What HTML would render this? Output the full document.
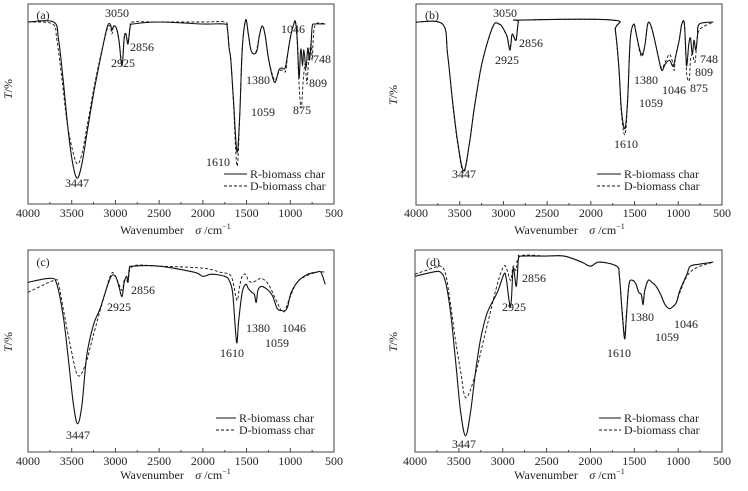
<!DOCTYPE html>
<html><head><meta charset="utf-8"><style>
html,body{margin:0;padding:0;background:#fff;}
svg{display:block;}
svg text{font-family:"Liberation Serif","Times New Roman",serif;}
</style></head><body>
<svg id="chart" width="748" height="491" viewBox="0 0 748 491" font-family="Liberation Serif, serif" xmlns="http://www.w3.org/2000/svg"></svg>
<script>
// ---- data (wavenumber / cm^-1, transmittance T% relative scale) ----
const xTicks = [4000,3500,3000,2500,2000,1500,1000,500];
const panelLabels = ['(a)','(b)','(c)','(d)'];
const seriesNames = ['R-biomass char','D-biomass char'];

const aRwn = [4000,3707,3650,3593,3536,3479,3433,3384,3327,3251,3175,3098,3060,3040,3020,2990,2960,2925,2900,2880,2856,2830,2800,2500,2000,1750,1720,1700,1680,1650,1610,1580,1550,1510,1480,1450,1410,1380,1350,1320,1290,1250,1200,1170,1130,1100,1059,1030,1000,960,940,920,900,885,875,860,845,820,800,780,760,748,720,600];
const aRv  = [91,91,82,60,35,18,13,20,35,55,72,88,90,87,89,88,82,69,83,85,80,89,90,91,90,90,88,78,72,52,26,43,77,92,85,77,75,77,85,89,85,73,63,61,67,68,68,75,83,90,91,82,63,75,77,69,77,68,78,72,82,89,90,90];
const aDwn = [4000,3720,3670,3610,3550,3480,3433,3384,3327,3251,3175,3098,3060,3040,3020,2990,2960,2925,2900,2880,2856,2830,2800,2500,2000,1750,1720,1700,1680,1650,1610,1580,1550,1510,1480,1450,1410,1380,1350,1320,1290,1250,1200,1170,1130,1100,1059,1046,1030,1000,960,940,920,900,875,850,830,809,790,760,748,720,600];
const aDv  = [91,90,82,62,40,25,20,25,38,57,73,87,89,85,89,88,82,70,83,85,81,89,91,91,91,91,88,78,72,50,19,42,77,92,85,77,75,78,85,89,85,73,64,62,66,67,66,68,75,83,90,91,80,60,48,63,70,60,72,80,72,89,90];

const bRwn = [4000,3696,3639,3582,3525,3456,3391,3334,3258,3182,3106,3050,3020,2960,2925,2900,2856,2830,2800,1750,1720,1680,1650,1610,1580,1550,1510,1480,1440,1410,1380,1350,1320,1280,1230,1190,1150,1100,1060,1030,990,960,930,910,900,880,860,840,820,800,780,760,600];
const bRv  = [91,90,75,52,32,17,30,48,68,81,90,90,89,84,77,85,82,91,92,92,87,69,47,38,52,82,90,85,77,75,80,90,90,84,74,67,70,72,69,74,82,90,90,72,70,80,83,75,82,77,84,90,91];
const bDwn = [4000,3696,3639,3582,3525,3456,3391,3334,3258,3182,3106,3050,3020,2960,2925,2900,2856,2830,2800,1750,1720,1680,1650,1610,1580,1550,1510,1480,1440,1410,1380,1350,1320,1280,1230,1190,1150,1100,1059,1046,1030,990,960,930,910,900,875,860,840,809,790,760,600];
const bDv  = [91,90,75,51,31,16,30,48,68,81,90,90,89,84,78,85,82,91,92,92,87,68,45,35,51,82,90,85,76,74,80,90,90,84,74,68,71,75,70,67,74,82,90,90,70,64,62,72,75,71,79,87,91];

const cRwn = [4000,3745,3669,3593,3536,3479,3433,3384,3327,3251,3175,3060,3000,2960,2925,2900,2870,2856,2840,2800,2500,2100,2000,1900,1750,1700,1660,1630,1610,1590,1550,1510,1480,1440,1410,1390,1370,1330,1250,1200,1150,1100,1060,1030,990,900,800,700,650,600];
const cRv  = [84,86,83,66,45,23,14,23,48,63,71,86,87,82,77,84,87,84,91,92,92,89,87,88,87,85,79,62,54,65,79,83,81,79,78,74,80,82,80,77,71,70,70,72,79,85,88,89,89,83];
const cDwn = [4000,3700,3650,3593,3517,3433,3346,3251,3137,3050,3000,2925,2900,2856,2800,2500,2000,1800,1700,1660,1610,1580,1550,1510,1480,1440,1380,1330,1250,1150,1100,1060,1000,900,700,600];
const cDv  = [79,85,83,70,53,38,43,58,76,88,87,80,85,85,92,92,91,89,88,85,75,82,87,88,85,84,85,86,83,74,70,70,77,85,89,89];

const dRwn = [4000,3800,3708,3651,3594,3537,3480,3423,3366,3309,3252,3176,3062,2986,2960,2910,2880,2845,2820,2790,2500,2300,2100,2000,1900,1700,1670,1640,1610,1590,1560,1520,1480,1450,1420,1400,1380,1340,1300,1250,1200,1150,1100,1060,1020,980,900,860,750,600];
const dRv  = [87,89,89,84,69,45,20,8,20,40,56,69,79,88,86,72,91,82,96,97,97,97,94,92,94,92,87,70,56,67,83,85,83,79,78,73,80,85,84,82,78,73,71,72,74,80,88,92,93,94];
const dDwn = [4000,3800,3708,3651,3594,3537,3480,3423,3328,3214,3062,2986,2950,2910,2880,2845,2800,2500,2300,2100,2000,1900,1700,1670,1640,1610,1590,1560,1520,1480,1450,1420,1400,1380,1340,1300,1250,1200,1150,1100,1060,1020,980,900,800,600];
const dDv  = [88,91,92,88,73,55,40,27,36,56,83,92,90,85,92,90,97,97,97,94,92,94,92,87,71,58,68,83,85,83,79,78,74,80,85,84,82,78,73,71,72,74,79,87,91,94];

const annA = [['3050',117,13],['2856',142,47],['2925',123,63],['1380',258,80],['1046',293,29],['748',322,59],['809',318,83],['1059',263,112],['875',302,110],['1610',218,162],['3447',77,183]];
const annB = [['3050',505,13],['2856',531,43],['2925',507,60],['1380',646,80],['748',709,59],['809',704,72],['1046',674,90],['875',699,88],['1059',651,103],['1610',626,144],['3447',464,174]];
const annC = [['2856',143,290],['2925',119,307],['1380',258,328],['1046',294,328],['1059',277,343],['1610',232,353],['3447',78,435]];
const annD = [['2856',534,278],['2925',514,307],['1380',642,317],['1046',686,324],['1059',667,337],['1610',619,353],['3447',464,444]];

const panels = [
 {L:28,R:334,T:4,B:204,lab:[43,15],leg:[224,247,174,250],ann:annA,s:[[aRwn,aRv],[aDwn,aDv]],tickY:217,xl:[152,213,234],yl:[12,89]},
 {L:416,R:722,T:4,B:205,lab:[432,15],leg:[597,621,174,624],ann:annB,s:[[bRwn,bRv],[bDwn,bDv]],tickY:217,xl:[546,607,234],yl:[397,95]},
 {L:28,R:334,T:250,B:452,lab:[43,262],leg:[216,236,418,239],ann:annC,s:[[cRwn,cRv],[cDwn,cDv]],tickY:465,xl:[152,213,479],yl:[12,342]},
 {L:415,R:722,T:250,B:452,lab:[433,262],leg:[599,621,418,624],ann:annD,s:[[dRwn,dRv],[dDwn,dDv]],tickY:465,xl:[546,607,479],yl:[397,342]}
];
const NS='http://www.w3.org/2000/svg';
const svg=document.getElementById('chart');
const FF='Liberation Serif, serif';
function mk(tag,attrs,parent){const e=document.createElementNS(NS,tag);for(const k in attrs)e.setAttribute(k,attrs[k]);if(tag==='text')e.setAttribute('font-family',FF);(parent||svg).appendChild(e);return e;}
function smooth(pts){let d='M'+pts[0][0].toFixed(1)+','+pts[0][1].toFixed(1);
 for(let i=0;i<pts.length-1;i++){const p0=pts[i-1]||pts[i],p1=pts[i],p2=pts[i+1],p3=pts[i+2]||p2;
  const c1=[p1[0]+(p2[0]-p0[0])/6,p1[1]+(p2[1]-p0[1])/6],c2=[p2[0]-(p3[0]-p1[0])/6,p2[1]-(p3[1]-p1[1])/6];
  d+='C'+c1[0].toFixed(1)+','+c1[1].toFixed(1)+' '+c2[0].toFixed(1)+','+c2[1].toFixed(1)+' '+p2[0].toFixed(1)+','+p2[1].toFixed(1);}
 return d;}
panels.forEach((p,pi)=>{
 const g=mk('g',{});
 
 
 const xs=w=>p.L+(4000-w)/3500*(p.R-p.L);
 const ys=v=>p.B-v/100*(p.B-p.T);
 const box=mk('rect',{x:p.L,y:p.T,width:p.R-p.L,height:p.B-p.T,fill:'none',stroke:'#444','stroke-width':1},g);
 
 
 for(let w=4000;w>=500;w-=250){const major=w%500===0;
  const t=mk('line',{x1:xs(w),x2:xs(w),y1:p.B,y2:p.B-(major?4:2),stroke:'#444','stroke-width':1},g);
  
  }
 xTicks.forEach(w=>{const t=mk('text',{x:xs(w),y:p.tickY,'font-size':12,'text-anchor':'middle',fill:'#222'},g);t.textContent=w;
  
  });
 const xl=mk('text',{x:p.xl[0],y:p.xl[2],'font-size':12,'text-anchor':'middle',fill:'#222'},g);xl.textContent='Wavenumber';
 
 
 const xu=mk('text',{x:p.xl[1],y:p.xl[2],'font-size':12,'text-anchor':'middle',fill:'#222'},g);
 xu.innerHTML='<tspan font-style="italic">σ</tspan> /cm<tspan font-size="8" dy="-5">−1</tspan>';
 
 
 const yl=mk('text',{x:p.yl[0],y:p.yl[1],'font-size':12,'text-anchor':'middle',fill:'#222',transform:'rotate(-90 '+p.yl[0]+' '+p.yl[1]+')'},g);
 yl.innerHTML='<tspan font-style="italic">T</tspan>/%';
 
 
 const pl=mk('text',{x:p.lab[0],y:p.lab[1]+4,'font-size':12,'text-anchor':'middle',fill:'#222'},g);pl.textContent=panelLabels[pi];
 
 
 p.s.forEach((s,si)=>{const pts=s[0].map((w,i)=>[xs(w),ys(s[1][i])]);
  const path=mk('path',{d:smooth(pts),fill:'none',stroke:'#111','stroke-width':si?0.9:1.1,'stroke-dasharray':si?'3,2':'none'},g);
  
  
  const ly=p.leg[2]+si*12;
  const ll=mk('line',{x1:p.leg[0],x2:p.leg[1],y1:ly,y2:ly,stroke:'#111','stroke-width':1,'stroke-dasharray':si?'3,2':'none'},g);
  
  
  const lt=mk('text',{x:p.leg[3],y:ly+4,'font-size':12,fill:'#222'},g);lt.textContent=seriesNames[si];
  
  });
 p.ann.forEach(a=>{const t=mk('text',{x:a[1],y:a[2]+4,'font-size':12,'text-anchor':'middle',fill:'#222'},g);t.textContent=a[0];
  
  });
});
</script>
</body></html>
